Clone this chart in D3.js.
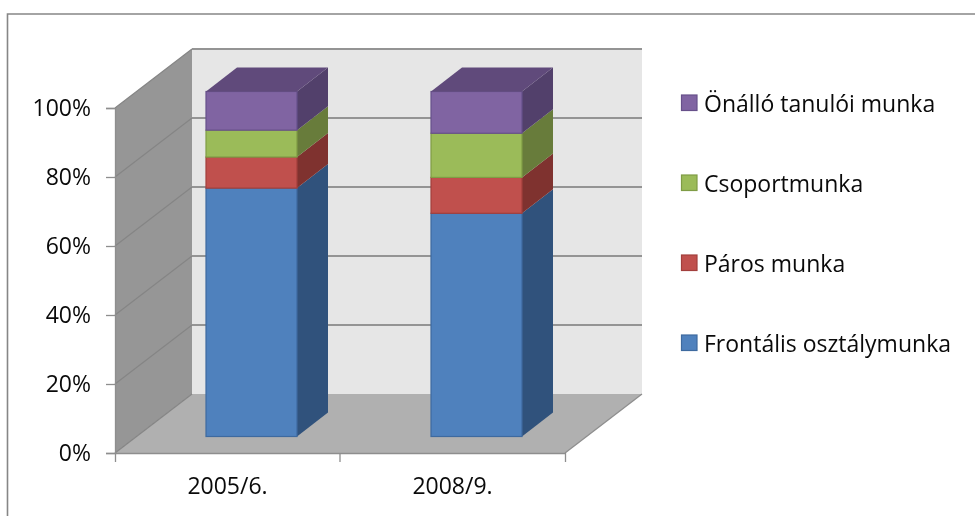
<!DOCTYPE html>
<html><head><meta charset="utf-8">
<script src="https://cdn.jsdelivr.net/npm/d3@7"></script>
<style>html,body{margin:0;padding:0;background:#fff}svg{display:block;filter:blur(0.45px)}text{font-family:"Open Sans",Lato,sans-serif;fill:#0a0a0a}</style>
</head><body><svg id="c" width="975" height="516"></svg>
<script>
const categories = ["2005/6.", "2008/9."];
const seriesNames = ["Frontális osztálymunka", "Páros munka", "Csoportmunka", "Önálló tanulói munka"];
const frontalis = [72, 64.7];
const paros = [9, 10.4];
const csoport = [7.8, 12.8];
const onallo = [11.2, 12.1];
const tickValues = [0, 20, 40, 60, 80, 100];
const baseColors = ["#4F81BD", "#C0504D", "#9BBB59", "#8064A2"];
const sideColors = ["#30527C", "#7F322F", "#687C3B", "#52406B"];
const topColor = "#604A7B";
const edgeColors = ["#3E6A9F", "#A23F3C", "#7F9C45", "#67508A"];

const svg = d3.select("#c");
const y = d3.scaleLinear().domain([0, 100]).range([453, 108]);
const x = d3.scaleBand().domain(categories).range([115, 565]);
const depth = {dx: 77, dy: -59};
const barDepth = {dx: 31, dy: -24};
const barOff = {dx: 24, dy: -16.5};
const barW = 91;
const pts = a => a.map(p => p.join(",")).join(" ");

// frame
svg.append("path").attr("d", "M975,14H7.5V516").attr("fill", "none").attr("stroke", "#868686").attr("stroke-width", 1.6);

// walls
const x0 = x.range()[0], x1 = x.range()[1];
svg.append("polygon").attr("fill", "#e6e6e6").attr("points", pts([
  [x0 + depth.dx, y(100) + depth.dy], [x1 + depth.dx, y(100) + depth.dy],
  [x1 + depth.dx, y(0) + depth.dy], [x0 + depth.dx, y(0) + depth.dy]]));
svg.append("polygon").attr("fill", "#969696").attr("points", pts([
  [x0, y(100)], [x0 + depth.dx, y(100) + depth.dy], [x0 + depth.dx, y(0) + depth.dy], [x0, y(0)]]));
svg.append("polygon").attr("fill", "#b0b0b0").attr("points", pts([
  [x0, y(0)], [x0 + depth.dx, y(0) + depth.dy], [x1 + depth.dx, y(0) + depth.dy], [x1, y(0)]]));

// gridlines
tickValues.forEach(t => {
  svg.append("path").attr("fill", "none").attr("stroke", "#858585").attr("stroke-width", 1.2)
    .attr("d", `M${x0},${y(t)}L${x0 + depth.dx},${y(t) + depth.dy}`);
  if (t > 0) svg.append("path").attr("fill", "none").attr("stroke", "#949494").attr("stroke-width", 1.8)
    .attr("d", `M${x0 + depth.dx},${y(t) + depth.dy}H${x1 + depth.dx}`);
});
svg.append("path").attr("fill", "none").attr("stroke", "#8e8e8e").attr("stroke-width", 1.3)
  .attr("d", `M${x1},${y(0)}L${x1 + depth.dx},${y(0) + depth.dy}`);

// axes
const yAxis = d3.axisLeft(y).tickValues(tickValues).tickFormat(d => d + "%").tickSize(9).tickPadding(15);
const gy = svg.append("g").attr("transform", `translate(${x0},0)`).call(yAxis);
const xAxis = d3.axisBottom(x).tickSizeInner(0).tickSizeOuter(9).tickPadding(25);
const gx = svg.append("g").attr("transform", `translate(0,${y(0)})`).call(xAxis);
[gy, gx].forEach(g => {
  g.selectAll("path,line").attr("stroke", "#8e8e8e").attr("stroke-width", 1.3);
  g.selectAll("text").attr("font-size", 23).style("font-family", '"Open Sans",Lato,sans-serif').attr("fill", "#0a0a0a");
});
// middle category tick
gx.append("line").attr("x1", x(categories[1])).attr("x2", x(categories[1])).attr("y1", 0).attr("y2", 9)
  .attr("stroke", "#8e8e8e").attr("stroke-width", 1.3);

// stacked 3D bars
const rows = categories.map((c, i) => ({cat: c, s0: frontalis[i], s1: paros[i], s2: csoport[i], s3: onallo[i]}));
const stacked = d3.stack().keys(["s0", "s1", "s2", "s3"])(rows);
stacked.forEach((layer, si) => {
  layer.forEach(d => {
    const left = x(d.data.cat) + x.bandwidth() / 2 - barW / 2 + barOff.dx;
    const right = left + barW;
    const yb = y(d[0]) + barOff.dy, yt = y(d[1]) + barOff.dy;
    svg.append("polygon").attr("fill", sideColors[si]).attr("points", pts([
      [right, yb], [right + barDepth.dx, yb + barDepth.dy], [right + barDepth.dx, yt + barDepth.dy], [right, yt]]));
    svg.append("rect").attr("x", left).attr("y", yt).attr("width", barW).attr("height", yb - yt)
      .attr("fill", baseColors[si]).attr("stroke", edgeColors[si]).attr("stroke-width", 1.2);
    if (si === 3) {
      svg.append("polygon").attr("fill", topColor).attr("points", pts([
        [left, yt], [left + barDepth.dx, yt + barDepth.dy], [right + barDepth.dx, yt + barDepth.dy], [right, yt]]));
    }
  });
});

// legend
const legendY = d3.scalePoint().domain(seriesNames.slice().reverse()).range([103, 343]);
seriesNames.forEach((n, i) => {
  const g = svg.append("g").attr("transform", `translate(681,${legendY(n)})`);
  g.append("rect").attr("x", 0.5).attr("y", -8).attr("width", 15.5).attr("height", 15.5)
    .attr("fill", baseColors[i]).attr("stroke", edgeColors[i]).attr("stroke-width", 1.2);
  g.append("text").attr("x", 23).attr("y", 8.5).attr("font-size", 23).text(n);
});
</script></body></html>
